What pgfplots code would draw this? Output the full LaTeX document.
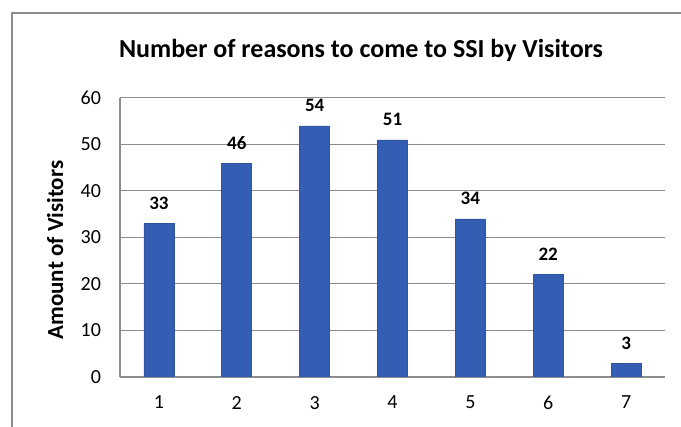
\documentclass[border=0pt]{standalone}
\usepackage{pgfplots}
\pgfplotsset{compat=1.18}
\usepackage{fontspec}
\setmainfont{Carlito}
\definecolor{barblue}{RGB}{52,94,180}
\definecolor{gridgray}{RGB}{140,140,140}
\begin{document}
\begin{tikzpicture}
\useasboundingbox (0,0) rectangle (340.5pt,213.5pt);
\draw[gridgray, line width=0.6pt] (6pt,0) -- (6pt,207pt) -- (340.5pt,207pt);
\node[font=\fontsize{13}{15}\selectfont\bfseries, anchor=center] at (180.5pt,188.5pt) {Number of reasons to come to SSI by Visitors};
\begin{axis}[
  at={(60pt,25pt)}, anchor=south west,
  scale only axis, width=272.5pt, height=139.5pt,
  xmin=0.5, xmax=7.5, ymin=0, ymax=60,
  xtick={1,2,3,4,5,6,7}, ytick={0,10,20,30,40,50,60},
  axis x line*=bottom, axis y line*=left,
  axis line style={-, gridgray, line width=0.6pt},
  ymajorgrids, grid style={gridgray, line width=0.5pt},
  major tick length=0pt,
  tick style={draw=none},
  /pgf/number format/assume math mode=true,
  tick label style={font=\fontsize{10}{12}\selectfont},
  yticklabel style={xshift=-6pt},
  xticklabel style={yshift=-6pt},
  ylabel={Amount of Visitors},
  ylabel style={at={(axis description cs:-0.119,0.455)}, anchor=center, rotate=0, font=\fontsize{11.5}{13}\selectfont\bfseries},
  ybar, bar width=15pt,
  nodes near coords,
  nodes near coords style={font=\fontsize{9.5}{11}\selectfont\bfseries, anchor=base, yshift=7pt},
]
\addplot[fill=barblue, draw=barblue!90!black, line width=0.3pt] coordinates {(1,33) (2,46) (3,54) (4,51) (5,34) (6,22) (7,3)};
\end{axis}
\end{tikzpicture}
\end{document}
